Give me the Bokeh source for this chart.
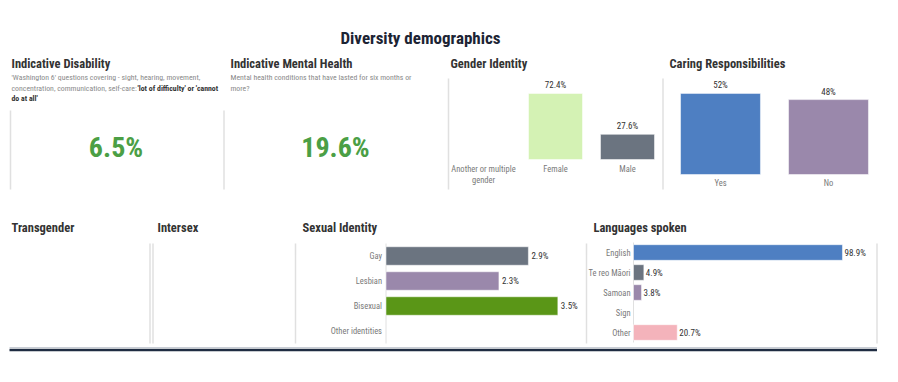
import math
from bokeh.plotting import figure
from bokeh.models import Range1d, ColumnDataSource
from bokeh.core.properties import value
from bokeh.embed import file_html
from bokeh.resources import INLINE

# ---------------- data ----------------
main_title = "Diversity demographics"
panel_titles = ["Indicative Disability", "Indicative Mental Health", "Gender Identity",
                "Caring Responsibilities", "Transgender", "Intersex", "Sexual Identity",
                "Languages spoken"]
disability_value = 6.5
mental_value = 19.6

gender_categories = ["Another or multiple gender", "Female", "Male"]
gender_values = [float("nan"), 72.4, 27.6]

caring_categories = ["Yes", "No"]
caring_values = [52, 48]

sexual_categories = ["Gay", "Lesbian", "Bisexual", "Other identities"]
sexual_values = [2.9, 2.3, 3.5, float("nan")]

language_categories = ["English", "Te reo Māori", "Samoan", "Sign", "Other"]
language_values = [98.9, 4.9, 3.8, float("nan"), 20.7]

# ---------------- styles ----------------
FONT = "Liberation Sans Narrow, Roboto Condensed, Arial Narrow, Roboto, sans-serif"
F = value(FONT)
C_TITLE = "#333333"
C_SUB = "#8a8a8a"
C_CAT = "#7a7a7a"
C_VAL = "#333333"
C_BORDER = "#e0e0e0"
C_GREEN_TXT = "#4b9f45"
gender_colors = ["#cccccc", "#d4f2b4", "#6b7480"]
caring_colors = ["#4e7fc2", "#9a88ab"]
sexual_colors = ["#6b7480", "#9a88ab", "#5a9617", "#cccccc"]
language_colors = ["#4e7fc2", "#6b7480", "#9a88ab", "#cccccc", "#f4b3bb"]
CAT_SIZE = "8.5px"
VAL_SIZE = "9px"

W, H = 890, 374
X0, Y0 = 0, 0

p = figure(width=W, height=H, output_backend="svg", toolbar_location=None,
           x_range=Range1d(X0, X0 + W), y_range=Range1d(Y0 + H, Y0),
           min_border=0, outline_line_color=None)
p.axis.visible = False
p.grid.visible = False
p.background_fill_color = "white"
p.border_fill_color = "white"


def mapped(pix_a, val_a, pix_b, val_b, lo, hi):
    slope = (val_b - val_a) / (pix_b - pix_a)
    return Range1d(val_a + (lo - pix_a) * slope, val_a + (hi - pix_a) * slope)


XL, XH = X0, X0 + W
YB, YT = Y0 + H, Y0
p.extra_x_ranges = {
    "gx": mapped(483, 0, 555, 1, XL, XH),
    "cx": mapped(720, 0, 828, 1, XL, XH),
    "sx": mapped(385.5, 0, 434.6, 1, XL, XH),
    "lx": mapped(633, 0, 654.13, 10, XL, XH),
}
p.extra_y_ranges = {
    "gy": mapped(159, 0, 67.8, 100, YB, YT),
    "cy": mapped(174, 0, 18, 100, YB, YT),
    "sy": mapped(255.5, 0, 280.5, 1, YB, YT),
    "ly": mapped(252, 0, 272, 1, YB, YT),
}


def fmt(v):
    return f"{v:g}%"


def valid(cats, vals, cols):
    idx = [i for i, v in enumerate(vals) if not (isinstance(v, float) and math.isnan(v))]
    return dict(i=idx, v=[vals[i] for i in idx], c=[cols[i] for i in idx],
                t=[fmt(vals[i]) for i in idx])


# ---------------- decorations ----------------
p.segment(x0=[10, 223.5, 448, 662.5], y0=[110, 110, 78, 78],
          x1=[10, 223.5, 448, 662.5], y1=[189, 189, 189, 189],
          line_color=C_BORDER, line_width=1.5)
p.segment(x0=[149.5, 152.5, 295, 586, 876.5], y0=[243] * 5,
          x1=[149.5, 152.5, 295, 586, 876.5], y1=[343] * 5,
          line_color=C_BORDER, line_width=1.5)
p.segment(x0=[9], y0=[347], x1=[876.5], y1=[347], line_color="#c9ced6", line_width=1)
p.segment(x0=[9], y0=[349.5], x1=[876.5], y1=[349.5], line_color="#1f2c42", line_width=2.5)

# ---------------- texts ----------------
p.text(x=[420], y=[37], text=[main_title], text_font=F, text_font_size="17px",
       text_font_style="bold", text_color="#1c2434", text_align="center", text_baseline="middle")

title_x = [11, 230, 450, 669, 11, 157, 302, 593]
title_y = [63, 63, 63, 63, 227, 227, 227, 227]
p.text(x=title_x, y=title_y, text=panel_titles, text_font=F, text_font_size="12.5px",
       text_font_style="bold", text_color=C_TITLE, text_align="left", text_baseline="middle")

p.text(x=[11, 11, 230, 230], y=[76.5, 87.5, 77, 88],
       text=["'Washington 6' questions covering - sight, hearing, movement,",
             "concentration, communication, self-care: ",
             "Mental health conditions that have lasted for six months or",
             "more?"],
       text_font=F, text_font_size="7.8px", text_color=C_SUB, text_align="left",
       text_baseline="middle")
p.text(x=[137, 11], y=[87.5, 97.5], text=["'lot of difficulty' or 'cannot", "do at all'"],
       text_font=F, text_font_size="7.8px", text_font_style="bold", text_color=C_VAL,
       text_align="left", text_baseline="middle")

p.text(x=[115.5, 335], y=[147, 147], text=[fmt(disability_value), fmt(mental_value)],
       text_font=F, text_font_size="28px", text_font_style="bold", text_color=C_GREEN_TXT,
       text_align="center", text_baseline="middle")

# ---------------- gender ----------------
g = ColumnDataSource(valid(gender_categories, gender_values, gender_colors))
p.vbar(x="i", top="v", bottom=0, width=0.75, fill_color="c", line_color="white",
       line_alpha=0.5, source=g, x_range_name="gx", y_range_name="gy")
p.text(x="i", y="v", text="t", source=g, x_range_name="gx", y_range_name="gy",
       text_font=F, text_font_size=VAL_SIZE, text_color=C_VAL, text_align="center",
       text_baseline="bottom", y_offset=-3)
p.text(x=list(range(len(gender_categories))), y=[0] * len(gender_categories),
       text=[c.replace("multiple ", "multiple\n") for c in gender_categories],
       x_range_name="gx", y_range_name="gy", text_font=F, text_font_size=CAT_SIZE,
       text_color=C_CAT, text_align="center", text_baseline="top", y_offset=4,
       text_line_height=1.15)

# ---------------- caring ----------------
c = ColumnDataSource(valid(caring_categories, caring_values, caring_colors))
p.vbar(x="i", top="v", bottom=0, width=0.74, fill_color="c", line_color="white",
       line_alpha=0.5, source=c, x_range_name="cx", y_range_name="cy")
p.text(x="i", y="v", text="t", source=c, x_range_name="cx", y_range_name="cy",
       text_font=F, text_font_size=VAL_SIZE, text_color=C_VAL, text_align="center",
       text_baseline="bottom", y_offset=-3)
p.text(x=list(range(len(caring_categories))), y=[0] * len(caring_categories),
       text=caring_categories, x_range_name="cx", y_range_name="cy", text_font=F,
       text_font_size=CAT_SIZE, text_color=C_CAT, text_align="center",
       text_baseline="top", y_offset=3)

# ---------------- sexual identity ----------------
s = ColumnDataSource(valid(sexual_categories, sexual_values, sexual_colors))
p.segment(x0=[0], y0=[-0.5], x1=[0], y1=[len(sexual_categories) - 0.5],
          line_color=C_BORDER, line_width=1, x_range_name="sx", y_range_name="sy")
p.hbar(y="i", right="v", left=0, height=0.74, fill_color="c", line_color="white",
       line_alpha=0.5, source=s, x_range_name="sx", y_range_name="sy")
p.text(x="v", y="i", text="t", source=s, x_range_name="sx", y_range_name="sy",
       text_font=F, text_font_size=VAL_SIZE, text_color=C_VAL, text_align="left",
       text_baseline="middle", x_offset=3)
p.text(x=[0] * len(sexual_categories), y=list(range(len(sexual_categories))),
       text=sexual_categories, x_range_name="sx", y_range_name="sy", text_font=F,
       text_font_size=CAT_SIZE, text_color=C_CAT, text_align="right",
       text_baseline="middle", x_offset=-4)

# ---------------- languages ----------------
l = ColumnDataSource(valid(language_categories, language_values, language_colors))
p.segment(x0=[0], y0=[-0.5], x1=[0], y1=[len(language_categories) - 0.5],
          line_color=C_BORDER, line_width=1, x_range_name="lx", y_range_name="ly")
p.hbar(y="i", right="v", left=0, height=0.78, fill_color="c", line_color="white",
       line_alpha=0.5, source=l, x_range_name="lx", y_range_name="ly")
p.text(x="v", y="i", text="t", source=l, x_range_name="lx", y_range_name="ly",
       text_font=F, text_font_size=VAL_SIZE, text_color=C_VAL, text_align="left",
       text_baseline="middle", x_offset=2)
p.text(x=[0] * len(language_categories), y=list(range(len(language_categories))),
       text=language_categories, x_range_name="lx", y_range_name="ly", text_font=F,
       text_font_size=CAT_SIZE, text_color=C_CAT, text_align="right",
       text_baseline="middle", x_offset=-3)

open("out.html", "w").write(file_html(p, INLINE))
